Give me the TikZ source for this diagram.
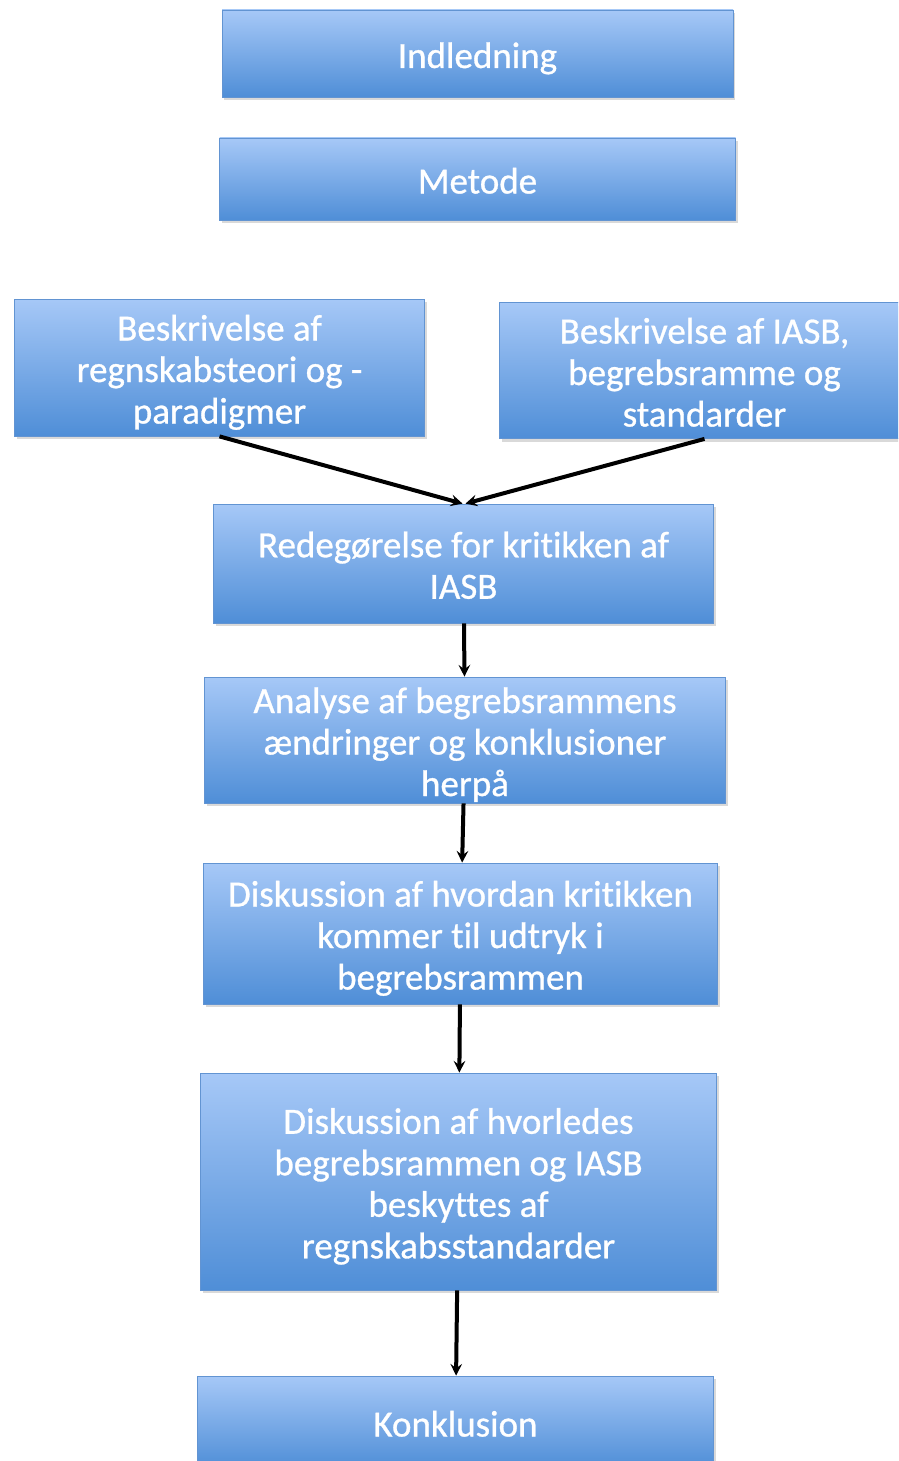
\documentclass[tikz,border=0pt]{standalone}
\usepackage{fontspec}
\setmainfont{Carlito}[Ligatures=NoCommon, FakeBold=0.8]
\usetikzlibrary{shadows}
\definecolor{boxtop}{RGB}{166,200,247}
\definecolor{boxbottom}{RGB}{79,142,215}
\definecolor{boxedge}{RGB}{98,148,210}
\newcommand{\topstrut}{\rule{0pt}{29pt}}

\begin{document}
\begin{tikzpicture}[x=1pt,y=-1pt]
        \tikzstyle{stepbox} = [rectangle, draw=boxedge, line width=0.8pt, top color=boxtop, bottom color=boxbottom, text=white, align=center, text depth=0pt, font=\fontsize{37}{41.5}\selectfont, drop shadow={opacity=0.3, shadow xshift=2pt, shadow yshift=-3pt}]
        \tikzstyle{arrow} = [line width=4pt,->,>=stealth]

        \clip (0,0) rectangle (898,1461);

        \node (intro) [stepbox, minimum width=511pt, minimum height=87pt] at (477.5,53.5) {\topstrut Indledning};
        \node (metode) [stepbox, minimum width=516pt, minimum height=82pt, below of=intro, node distance=125.5pt] {\topstrut Metode};
        \node (teori) [stepbox, minimum width=410pt, minimum height=137pt, below of=metode, node distance=188.5pt, xshift=-258pt] {\topstrut Beskrivelse af\\regnskabsteori og -\\paradigmer};
        \node (iasb) [stepbox, minimum width=410pt, minimum height=136pt, below of=metode, node distance=191.5pt, xshift=227pt] {\topstrut Beskrivelse af IASB,\\begrebsramme og\\standarder};
        \node (kritik) [stepbox, minimum width=500pt, minimum height=119pt, below of=metode, node distance=384.5pt, xshift=-14pt] {\topstrut Redegørelse for kritikken af\\IASB};
        \node (analyse) [stepbox, minimum width=521pt, minimum height=126pt, below of=kritik, node distance=176.5pt, xshift=1.5pt] {\topstrut Analyse af begrebsrammens\\ændringer og konklusioner\\herpå};
        \node (disk1) [stepbox, minimum width=514pt, minimum height=141pt, below of=analyse, node distance=193.5pt, xshift=-4.5pt] {\topstrut Diskussion af hvordan kritikken\\kommer til udtryk i\\begrebsrammen};
        \node (disk2) [stepbox, minimum width=516pt, minimum height=217pt, below of=disk1, node distance=248pt, xshift=-2pt] {\topstrut Diskussion af hvorledes\\begrebsrammen og IASB\\beskyttes af\\regnskabsstandarder};
        \node (konk) [stepbox, minimum width=516pt, minimum height=92pt, below of=disk2, node distance=240.5pt, xshift=-3pt] {\topstrut Konklusion};

        \draw [arrow] (teori.south) -- ([xshift=-1pt]kritik.north);
        \draw [arrow] (iasb.south) -- ([xshift=2pt]kritik.north);
        \draw [arrow] (kritik) -- (analyse);
        \draw [arrow] (analyse) -- (disk1);
        \draw [arrow] (disk1) -- (disk2);
        \draw [arrow] (disk2) -- (konk);
    \end{tikzpicture}
\end{document}
